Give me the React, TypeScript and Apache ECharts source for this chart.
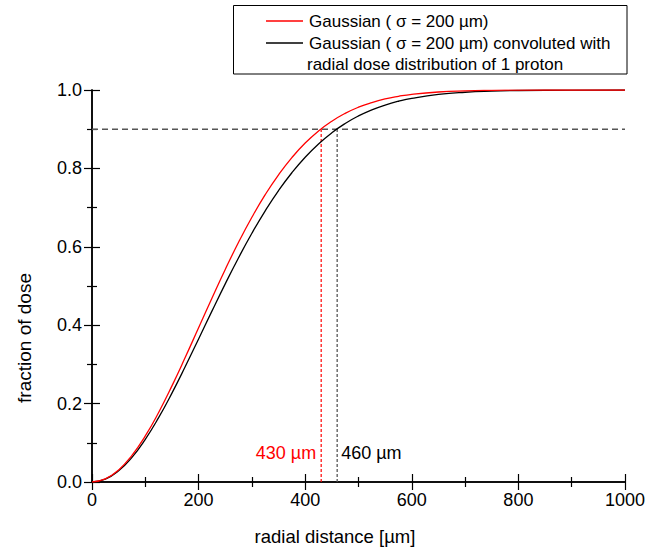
import React, { useEffect, useRef } from "react";
import * as echarts from "echarts";

// radial distance samples [µm]
const radius = [
  0, 25, 50, 75, 100, 125, 150, 175, 200, 225, 250, 275, 300, 325, 350, 375,
  400, 425, 450, 475, 500, 525, 550, 575, 600, 650, 700, 750, 800, 900, 1000,
];
// Gaussian (σ = 200 µm), cumulative fraction of dose
const gaussian = [
  0, 0.0078, 0.0308, 0.0679, 0.1175, 0.1774, 0.2452, 0.3181, 0.3935, 0.4689,
  0.5422, 0.6115, 0.6753, 0.733, 0.7837, 0.8276, 0.8647, 0.8954, 0.9204,
  0.9404, 0.9561, 0.968, 0.9772, 0.9838, 0.9889, 0.9949, 0.9978, 0.9991,
  0.9997, 0.99998, 1.0,
];
// Gaussian convoluted with radial dose distribution of 1 proton
const convoluted = [
  0, 0.0073, 0.0286, 0.0629, 0.1088, 0.1641, 0.2268, 0.2945, 0.3649, 0.4359,
  0.5055, 0.5722, 0.6346, 0.6918, 0.7434, 0.7889, 0.8285, 0.8624, 0.8909,
  0.9145, 0.9338, 0.9493, 0.9616, 0.9713, 0.9787, 0.9887, 0.9943, 0.9972,
  0.9987, 0.9997, 1.0,
];

const threshold = 0.9;
const gaussianR90 = 430;
const convolutedR90 = 460;

const xTicks = { min: 0, max: 1000, interval: 200 };
const yTicks = { min: 0, max: 1, interval: 0.2 };

const FONT = '"Liberation Sans", Arial, Helvetica, sans-serif';
const RED = "#ff0000";
const BLACK = "#000000";
const GUIDE = "#555555";

export default function App() {
  const ref = useRef<HTMLDivElement>(null);

  useEffect(() => {
    if (!ref.current) return;
    const chart = echarts.init(ref.current, undefined, { renderer: "svg" });

    const tickCfg = {
      axisLine: { show: true, lineStyle: { color: "#000", width: 1.5 } },
      axisTick: { show: true, inside: true, length: 8, lineStyle: { color: "#000", width: 1.2 } },
      minorTick: { show: true, splitNumber: 2, length: 5, lineStyle: { color: "#000", width: 1.2 } },
      splitLine: { show: false },
      minorSplitLine: { show: false },
    };

    const redPairs = radius.map((r, i) => [r, gaussian[i]]);
    const blackPairs = radius.map((r, i) => [r, convoluted[i]]);

    const valueLabel = (r: number, side: "left" | "right", color: string) => ({
      symbol: "circle",
      symbolSize: 0,
      silent: true,
      data: [
        {
          coord: [r, 0.073],
          label: {
            show: true,
            position: side,
            distance: side === "left" ? 5 : 4,
            formatter: `${r} µm`,
            color,
            fontSize: 18,
            fontFamily: FONT,
          },
        },
      ],
    });

    chart.setOption({
      animation: false,
      textStyle: { fontFamily: FONT },
      grid: { left: 92, top: 90, width: 533, height: 392, containLabel: false },
      xAxis: [
        {
          type: "value",
          ...xTicks,
          position: "bottom",
          ...tickCfg,
          axisLabel: {
            fontSize: 18,
            color: "#000",
            margin: 9,
            fontFamily: FONT,
            formatter: (v: number) => String(v),
          },
        },
        {
          type: "value",
          ...xTicks,
          position: "top",
          ...tickCfg,
          axisLabel: { show: false },
        },
      ],
      yAxis: [
        {
          type: "value",
          ...yTicks,
          position: "left",
          ...tickCfg,
          axisLabel: {
            fontSize: 18,
            color: "#000",
            margin: 10,
            fontFamily: FONT,
            formatter: (v: number) => v.toFixed(1),
          },
        },
        {
          type: "value",
          ...yTicks,
          position: "right",
          ...tickCfg,
          axisLabel: { show: false },
        },
      ],
      series: [
        // horizontal 90 % guide
        {
          type: "line",
          silent: true,
          showSymbol: false,
          data: [
            [xTicks.min, threshold],
            [xTicks.max, threshold],
          ],
          itemStyle: { color: GUIDE },
          lineStyle: { color: GUIDE, type: [6, 4], width: 1.5 },
          z: 1,
        },
        // radius where the Gaussian reaches 90 %
        {
          type: "line",
          silent: true,
          showSymbol: false,
          data: [
            [gaussianR90, 0],
            [gaussianR90, threshold],
          ],
          itemStyle: { color: RED },
          lineStyle: { color: RED, type: [3, 2], width: 1.2 },
          z: 1,
          markPoint: valueLabel(gaussianR90, "left", RED),
        },
        // radius where the convoluted curve reaches 90 %
        {
          type: "line",
          silent: true,
          showSymbol: false,
          data: [
            [convolutedR90, 0],
            [convolutedR90, threshold],
          ],
          itemStyle: { color: GUIDE },
          lineStyle: { color: GUIDE, type: [3, 2], width: 1.3 },
          z: 1,
          markPoint: valueLabel(convolutedR90, "right", BLACK),
        },
        {
          name: "Gaussian",
          type: "line",
          data: redPairs,
          smooth: true,
          showSymbol: false,
          itemStyle: { color: RED },
          lineStyle: { color: RED, width: 1.3 },
          z: 3,
        },
        {
          name: "Convoluted",
          type: "line",
          data: blackPairs,
          smooth: true,
          showSymbol: false,
          itemStyle: { color: BLACK },
          lineStyle: { color: BLACK, width: 1.3 },
          z: 2,
        },
      ],
      graphic: [
        {
          type: "rect",
          shape: { x: 233.5, y: 5.5, width: 393.5, height: 68.5 },
          style: { fill: "#fff", stroke: "#000", lineWidth: 1 },
        },
        {
          type: "line",
          shape: { x1: 266, y1: 21, x2: 303, y2: 21 },
          style: { stroke: RED, lineWidth: 1.3 },
        },
        {
          type: "line",
          shape: { x1: 266, y1: 43, x2: 303, y2: 43 },
          style: { stroke: BLACK, lineWidth: 1.3 },
        },
        {
          type: "text",
          x: 309,
          y: 21.5,
          style: {
            text: "Gaussian ( σ = 200 µm)",
            fontSize: 17,
            fontFamily: FONT,
            fill: "#000",
            verticalAlign: "middle",
          },
        },
        {
          type: "text",
          x: 309,
          y: 43.5,
          style: {
            text: "Gaussian ( σ = 200 µm) convoluted with",
            fontSize: 17,
            fontFamily: FONT,
            fill: "#000",
            verticalAlign: "middle",
          },
        },
        {
          type: "text",
          x: 307,
          y: 64.5,
          style: {
            text: "radial dose distribution of 1 proton",
            fontSize: 17,
            fontFamily: FONT,
            fill: "#000",
            verticalAlign: "middle",
          },
        },
        {
          type: "text",
          x: 335,
          y: 536,
          style: {
            text: "radial distance [µm]",
            fontSize: 18.5,
            fontFamily: FONT,
            fill: "#000",
            align: "center",
            verticalAlign: "middle",
          },
        },
        {
          type: "text",
          x: 24,
          y: 338,
          rotation: Math.PI / 2,
          style: {
            text: "fraction of dose",
            fontSize: 19,
            fontFamily: FONT,
            fill: "#000",
            align: "center",
            verticalAlign: "middle",
          },
        },
      ],
    });

    return () => chart.dispose();
  }, []);

  return (
    <div
      ref={ref}
      style={{ position: "fixed", left: 0, top: 0, width: 648, height: 548, background: "#fff" }}
    />
  );
}
